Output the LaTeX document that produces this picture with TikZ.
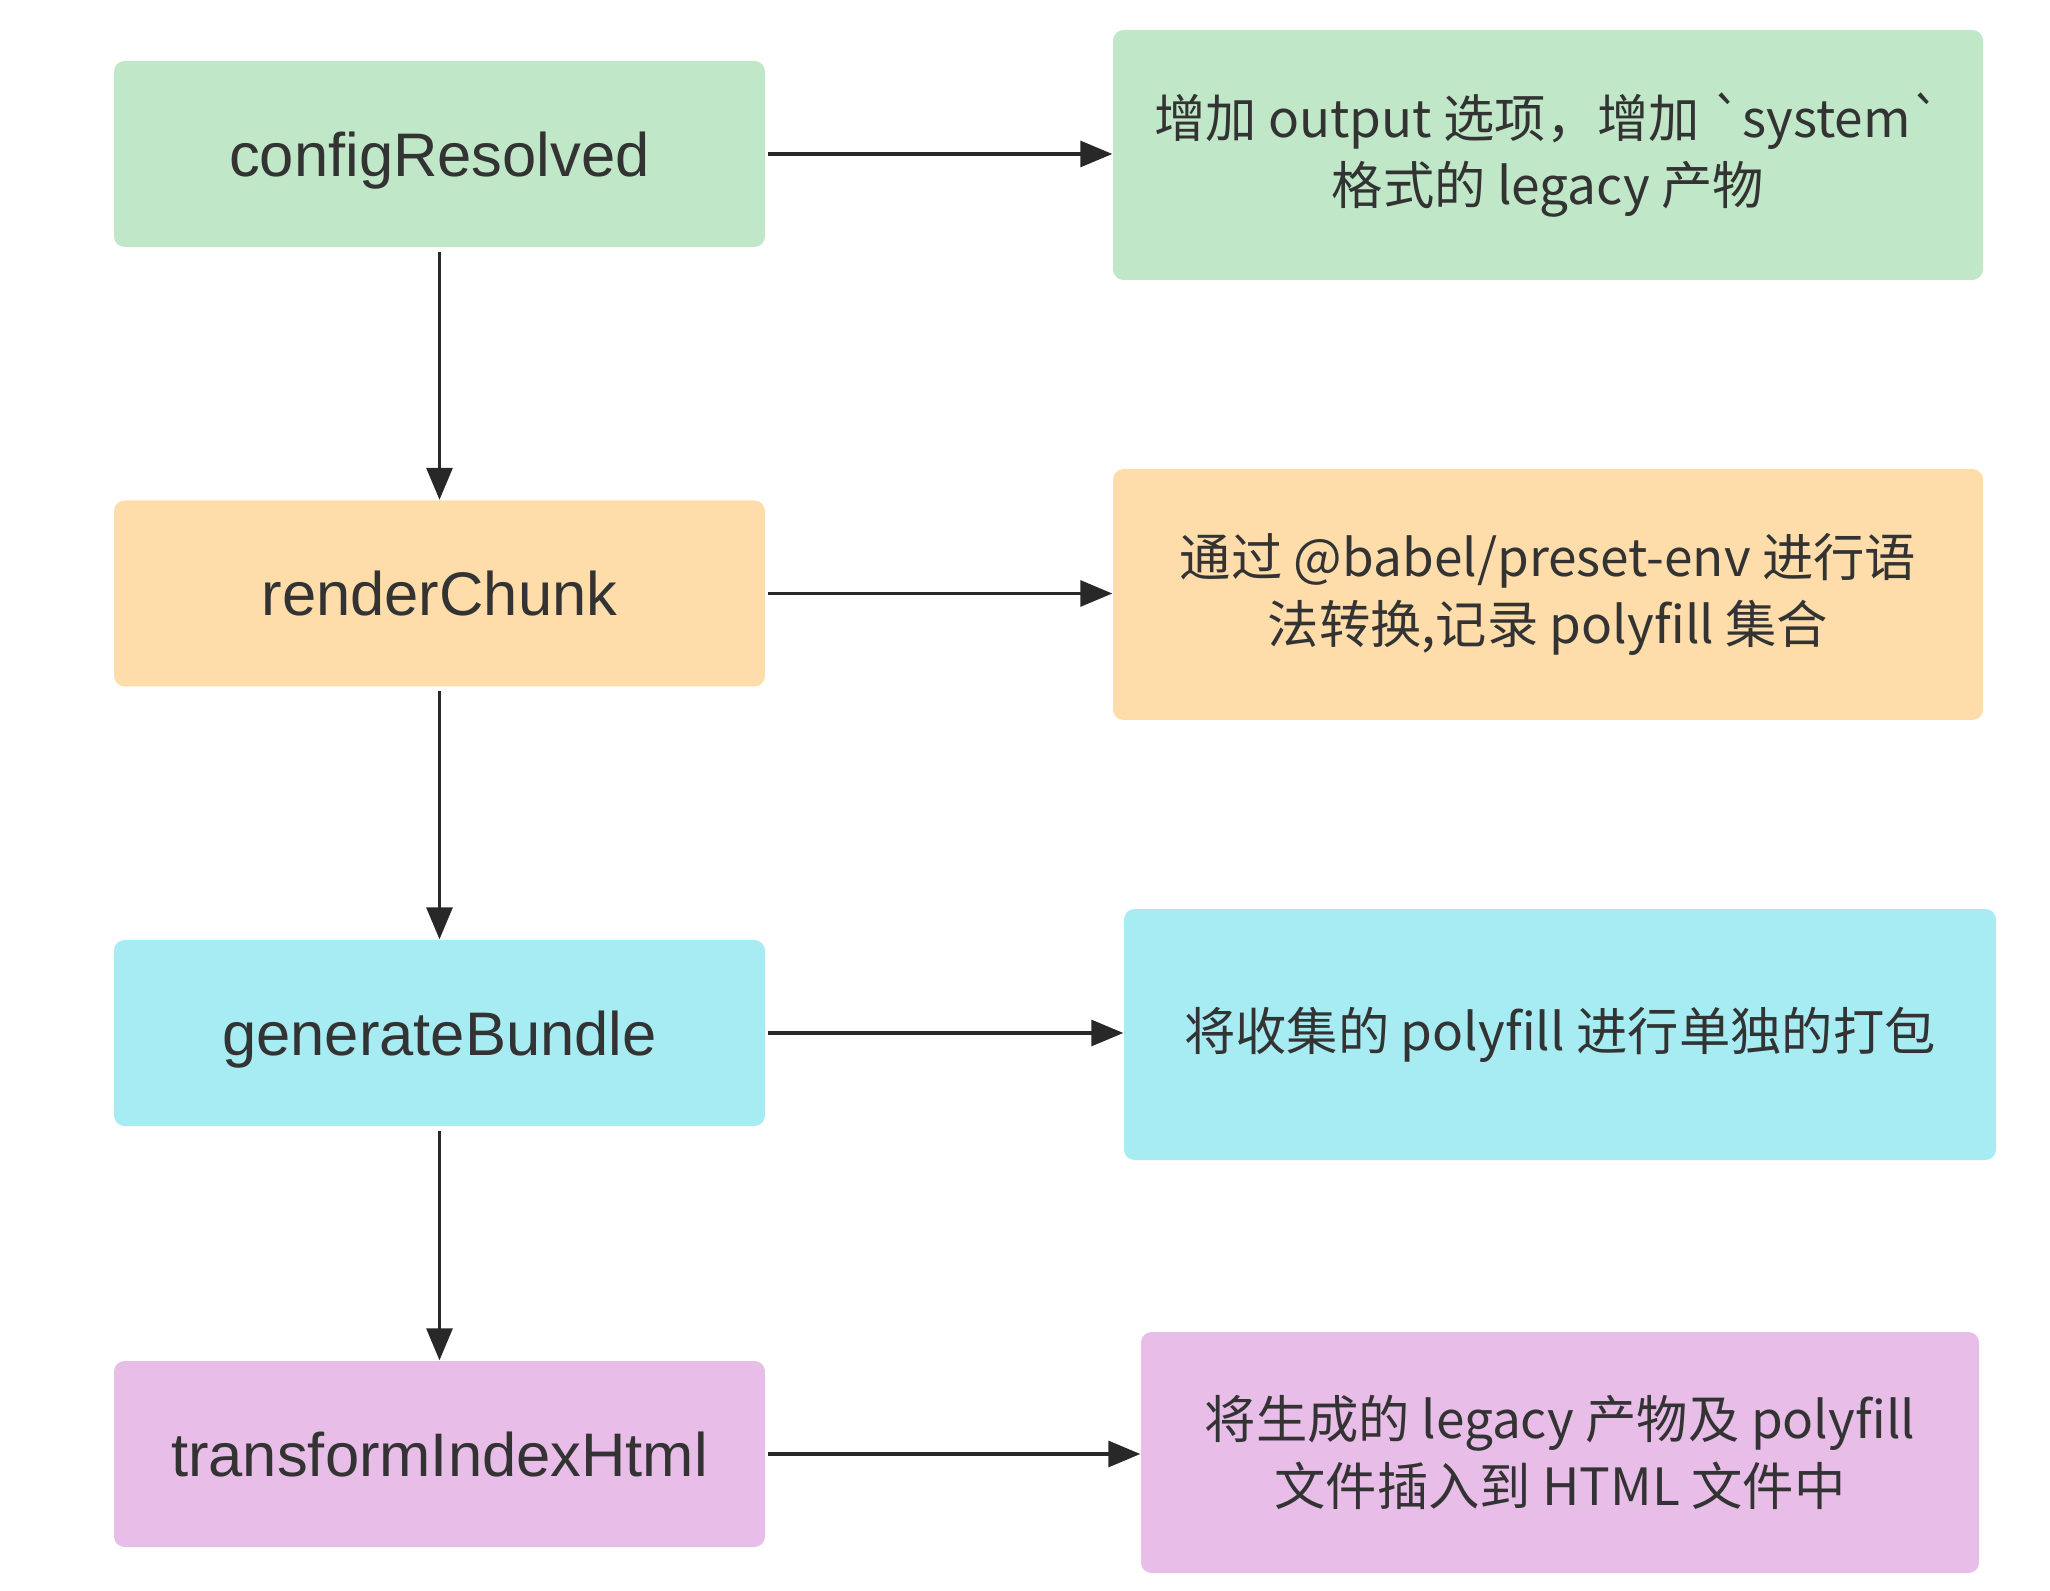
\documentclass[tikz,border=0pt]{standalone}
\usepackage{fontspec}
\setmainfont{Liberation Sans}
\newfontfamily\cjk[Ligatures=TeXOff]{Noto Sans CJK SC}
\usetikzlibrary{arrows.meta}

\definecolor{hookgreen}{RGB}{192,232,200}
\definecolor{hookorange}{RGB}{254,221,170}
\definecolor{hookcyan}{RGB}{166,236,242}
\definecolor{hookpurple}{RGB}{232,189,232}
\definecolor{textgray}{RGB}{51,51,51}
\definecolor{linegray}{RGB}{40,40,40}

\tikzset{
  hook/.style={rounded corners=3pt, minimum width=6.51cm, minimum height=1.86cm,
    text height=12.6pt, text depth=0pt,
    text=textgray, font=\fontsize{17.5}{20}\selectfont},
  desc/.style={rounded corners=3pt, align=center, inner sep=0pt, text=textgray,
    font=\cjk\fontsize{14.6}{19.2}\selectfont},
  flow/.style={draw=linegray, line width=0.9pt, -{Triangle[length=3.2mm,width=2.6mm]}}
}

\begin{document}
\begin{tikzpicture}
      \useasboundingbox (0,0) rectangle (20.5,15.9);

      %% hooks
      \node[hook, fill=hookgreen] (cfg) at (4.395,14.36) {configResolved};
      \node[hook, fill=hookorange] (render) at (4.395,9.965) {renderChunk};
      \node[hook, fill=hookcyan] (bundle) at (4.395,5.57) {generateBundle};
      \node[hook, fill=hookpurple] (html) at (4.395,1.36) {transformIndexHtml};

      %% descriptions
      \node[desc, fill=hookgreen, minimum width=8.70cm, minimum height=2.50cm]
        (cfgtxt) at (15.48,14.35) {增加 output 选项，增加 `system`\\格式的 legacy 产物};
      \node[desc, fill=hookorange, minimum width=8.70cm, minimum height=2.51cm]
        (rendertxt) at (15.48,9.955) {通过 @babel/preset-env 进行语\\法转换,记录 polyfill 集合};
      \node[desc, fill=hookcyan, minimum width=8.72cm, minimum height=2.51cm]
        (bundletxt) at (15.60,5.555) {将收集的 polyfill 进行单独的打包};
      \node[desc, fill=hookpurple, minimum width=8.38cm, minimum height=2.41cm]
        (htmltxt) at (15.60,1.375) {将生成的 legacy 产物及 polyfill\\文件插入到 HTML 文件中};

      %% hook order
      \draw[flow] ([yshift=-0.4mm]cfg.south) -- (render.north);
      \draw[flow] ([yshift=-0.4mm]render.south) -- (bundle.north);
      \draw[flow] ([yshift=-0.4mm]bundle.south) -- (html.north);

      %% what each hook does
      \draw[flow] ([xshift=0.2mm]cfg.east) -- (cfgtxt.west |- cfg.east);
      \draw[flow] ([xshift=0.2mm]render.east) -- (rendertxt.west |- render.east);
      \draw[flow] ([xshift=0.2mm]bundle.east) -- (bundletxt.west |- bundle.east);
      \draw[flow] ([xshift=0.2mm]html.east) -- (htmltxt.west |- html.east);
\end{tikzpicture}
\end{document}
